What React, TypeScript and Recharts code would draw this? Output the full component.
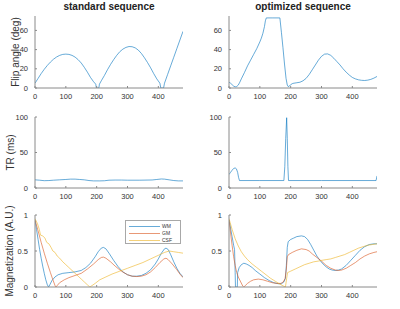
import React from "react";
import { Legend, Line, LineChart, XAxis, YAxis } from "recharts";

// sample index (x) and value (y) pairs
const xTicks = [0, 100, 200, 300, 400];
const flipTicks = [0, 20, 40, 60];
const trTicks = [0, 50, 100];
const magTicks = [0, 0.5, 1];

const stdFlip = [
  [0, 5], [10, 10], [20, 15], [30, 19.5], [40, 23.5], [50, 27], [60, 30], [70, 32.3], [80, 34], [90, 35],
  [100, 35.3], [110, 35], [120, 34], [130, 32.2], [140, 29.5], [150, 26], [160, 21.5], [170, 16.5], [180, 11],
  [190, 6.5], [197, 4], [199, 0], [207, 0], [209, 4], [215, 7.5], [225, 13], [235, 19], [245, 24.5], [255, 29.5],
  [265, 34], [275, 37.8], [285, 40.5], [295, 42.3], [305, 43.2], [315, 43], [325, 41.8], [335, 39.5], [345, 36],
  [355, 31.5], [365, 26.5], [375, 21], [385, 15], [395, 9.5], [405, 5], [408, 0], [417, 0], [420, 5], [430, 14],
  [440, 23], [450, 32], [460, 41], [470, 50], [480, 59],
];
const optFlip = [
  [0, 6], [5, 5], [10, 3.5], [15, 2], [20, 1.2], [25, 1.5], [30, 3], [35, 6], [40, 9.5], [50, 16], [60, 23],
  [70, 29], [80, 35], [90, 41], [100, 48], [105, 52], [110, 57], [115, 64], [118, 70], [121, 73], [140, 73],
  [165, 73], [170, 58], [175, 42], [180, 25], [185, 10], [189, 3], [192, 1.5], [196, 2], [200, 3.5], [207, 4.8],
  [220, 5.5], [230, 6], [240, 7.5], [250, 10], [260, 14], [270, 19], [280, 24], [290, 29], [300, 33],
  [310, 35.3], [320, 35.5], [330, 34], [340, 31], [350, 27.5], [360, 24], [370, 20], [380, 16.5], [390, 13.5],
  [400, 11], [410, 9.5], [420, 8.5], [430, 8], [440, 7.8], [450, 8.2], [460, 9], [470, 10.3], [480, 12],
];

const stdTR = [
  [0, 11.5], [15, 11], [30, 10.3], [45, 10.5], [60, 11], [80, 11.5], [100, 12], [115, 12.5], [130, 12.5],
  [145, 12], [160, 11.5], [175, 10.5], [190, 10], [210, 10], [225, 10.2], [240, 11], [260, 11.2], [280, 11.2],
  [300, 11], [340, 11], [380, 11.3], [395, 12], [410, 12.7], [420, 12.5], [435, 11.5], [450, 10.5], [465, 10],
  [480, 10],
];
const optTR = [
  [0, 19], [5, 22], [10, 25], [15, 27.5], [20, 28.3], [24, 27], [28, 22], [31, 15], [34, 10.5], [100, 10.5],
  [178, 10.5], [181, 30], [184, 70], [187, 99], [189, 70], [191, 30], [193, 10.5], [300, 10.5], [477, 10.5],
  [480, 17],
];

const stdWM = [
  [0, 0.93], [5, 0.8], [10, 0.66], [15, 0.52], [20, 0.4], [25, 0.29], [30, 0.19], [35, 0.1], [40, 0.03],
  [44, 0], [48, 0.03], [55, 0.09], [65, 0.14], [75, 0.17], [90, 0.19], [110, 0.2], [130, 0.21], [150, 0.23],
  [165, 0.27], [180, 0.33], [195, 0.42], [205, 0.49], [215, 0.54], [222, 0.55], [230, 0.53], [240, 0.47],
  [255, 0.37], [270, 0.28], [285, 0.21], [300, 0.17], [315, 0.15], [330, 0.15], [345, 0.16], [360, 0.19],
  [375, 0.24], [390, 0.32], [400, 0.39], [410, 0.47], [420, 0.53], [425, 0.54], [432, 0.52], [440, 0.45],
  [450, 0.35], [460, 0.26], [470, 0.19], [480, 0.14],
];
const stdGM = [
  [0, 0.93], [10, 0.78], [20, 0.62], [30, 0.47], [40, 0.33], [50, 0.2], [58, 0.1], [65, 0.02], [68, 0],
  [72, 0.02], [80, 0.06], [95, 0.1], [110, 0.13], [130, 0.16], [150, 0.19], [170, 0.25], [190, 0.32],
  [205, 0.38], [215, 0.41], [222, 0.415], [230, 0.4], [245, 0.35], [260, 0.29], [280, 0.22], [300, 0.17],
  [315, 0.15], [330, 0.145], [345, 0.15], [360, 0.17], [375, 0.21], [390, 0.27], [405, 0.34], [418, 0.39],
  [425, 0.4], [432, 0.38], [445, 0.32], [460, 0.24], [470, 0.18], [480, 0.13],
];
const stdCSF = [
  [0, 0.95], [8, 0.88], [14, 0.8], [18, 0.72], [25, 0.71], [32, 0.68], [38, 0.62], [45, 0.6], [52, 0.55],
  [58, 0.5], [65, 0.48], [72, 0.43], [80, 0.4], [90, 0.35], [100, 0.31], [110, 0.27], [120, 0.23], [130, 0.19],
  [140, 0.15], [150, 0.11], [160, 0.07], [170, 0.03], [178, 0], [185, 0.02], [195, 0.05], [210, 0.1],
  [230, 0.14], [250, 0.18], [275, 0.22], [300, 0.26], [325, 0.3], [350, 0.34], [375, 0.39], [400, 0.44],
  [420, 0.48], [435, 0.5], [450, 0.49], [465, 0.48], [480, 0.47],
];

const optWM = [
  [0, 0.93], [5, 0.82], [10, 0.7], [15, 0.58], [18, 0.52], [20, 0.2], [21, 0], [27, 0], [28, 0.2], [33, 0.27],
  [40, 0.31], [48, 0.33], [56, 0.32], [65, 0.3], [75, 0.27], [85, 0.23], [100, 0.18], [115, 0.13], [130, 0.09],
  [145, 0.06], [160, 0.045], [170, 0.045], [178, 0.07], [183, 0.12], [186, 0.3], [189, 0.55], [192, 0.63],
  [200, 0.66], [210, 0.68], [220, 0.7], [235, 0.71], [245, 0.7], [255, 0.66], [265, 0.59], [275, 0.51],
  [285, 0.43], [295, 0.37], [305, 0.32], [315, 0.28], [325, 0.25], [335, 0.235], [345, 0.23], [355, 0.235],
  [365, 0.25], [380, 0.3], [395, 0.37], [410, 0.44], [425, 0.51], [440, 0.56], [455, 0.59], [470, 0.6],
  [480, 0.6],
];
const optGM = [
  [0, 0.93], [5, 0.75], [10, 0.58], [15, 0.42], [20, 0.3], [25, 0.2], [30, 0.14], [38, 0.07], [45, 0.01],
  [48, 0], [53, 0.02], [60, 0.05], [70, 0.08], [80, 0.1], [95, 0.11], [110, 0.1], [125, 0.08], [140, 0.06],
  [155, 0.05], [168, 0.05], [176, 0.07], [182, 0.12], [186, 0.25], [189, 0.42], [193, 0.45], [205, 0.48],
  [220, 0.51], [235, 0.53], [250, 0.52], [260, 0.5], [270, 0.46], [285, 0.41], [300, 0.36], [315, 0.3],
  [330, 0.26], [345, 0.235], [355, 0.23], [365, 0.235], [380, 0.26], [395, 0.3], [410, 0.34], [425, 0.39],
  [440, 0.43], [455, 0.46], [470, 0.48], [480, 0.49],
];
const optCSF = [
  [0, 0.95], [10, 0.8], [20, 0.67], [30, 0.57], [40, 0.49], [50, 0.43], [60, 0.38], [75, 0.32], [90, 0.27],
  [105, 0.22], [120, 0.17], [135, 0.12], [150, 0.08], [165, 0.04], [178, 0.01], [183, 0], [187, 0.12],
  [190, 0.2], [200, 0.22], [215, 0.25], [230, 0.28], [245, 0.31], [260, 0.33], [275, 0.35], [290, 0.36],
  [300, 0.37], [315, 0.38], [330, 0.39], [345, 0.41], [360, 0.43], [375, 0.45], [390, 0.48], [405, 0.51],
  [420, 0.54], [435, 0.56], [450, 0.58], [465, 0.59], [480, 0.6],
];

const BLUE = "#0072BD";
const ORANGE = "#D95319";
const YELLOW = "#EDB120";
const AXIS = "#8a8a8a";
const TEXT = "#333333";
const FONT = '"Liberation Sans", Arial, sans-serif';
const LEGEND_ORDER = ["WM", "GM", "CSF"];

const pts = (arr: number[][]) => arr.map(([x, y]) => ({ x, y }));

type Series = { name: string; color: string; data: number[][] };

function MagLegend(props: any) {
  const items = [...(props.payload || [])].sort(
    (a: any, b: any) => LEGEND_ORDER.indexOf(a.value) - LEGEND_ORDER.indexOf(b.value)
  );
  return (
    <div
      style={{
        width: 56,
        height: 24,
        border: "1px solid #a8a8a8",
        background: "#fff",
        boxSizing: "border-box",
        paddingTop: 2,
        paddingLeft: 2,
      }}
    >
      {items.map((p: any) => (
        <div key={p.value} style={{ display: "flex", alignItems: "center", height: 7 }}>
          <svg width={32} height={7}>
            <line x1={1} x2={32} y1={3.5} y2={3.5} stroke={p.color} strokeOpacity={0.75} strokeWidth={0.8} />
          </svg>
          <span style={{ fontSize: 5, marginLeft: 2, color: TEXT, lineHeight: "7px" }}>{p.value}</span>
        </div>
      ))}
    </div>
  );
}

function Panel(props: {
  left: number;
  top: number;
  width: number;
  height: number;
  marginTop: number;
  yWidth: number;
  yDomain: number[];
  yTicks: number[];
  yLabel?: string;
  yLabelDx?: number;
  series: Series[];
  legend?: boolean;
}) {
  const { left, top, width, height, marginTop, yWidth, yDomain, yTicks, yLabel, yLabelDx, series, legend } = props;
  const tickStyle = { fill: TEXT, fontSize: 7.5 };
  return (
    <div style={{ position: "absolute", left, top }}>
      <LineChart width={width} height={height} margin={{ top: marginTop, right: 1, bottom: 0, left: 0 }}>
        <XAxis
          type="number"
          dataKey="x"
          domain={[0, 480]}
          ticks={xTicks}
          allowDataOverflow
          height={12}
          stroke={AXIS}
          tickSize={-2}
          tickMargin={8}
          tick={tickStyle}
        />
        <XAxis
          xAxisId="top"
          orientation="top"
          type="number"
          dataKey="x"
          domain={[0, 480]}
          ticks={xTicks}
          allowDataOverflow
          height={0}
          stroke={AXIS}
          tickSize={-2}
          tick={false}
        />
        <YAxis
          type="number"
          domain={yDomain}
          ticks={yTicks}
          allowDataOverflow
          width={yWidth}
          stroke={AXIS}
          tickSize={-2}
          tickMargin={9}
          tick={tickStyle}
          label={
            yLabel
              ? { value: yLabel, angle: -90, position: "center", dx: yLabelDx, style: { fontSize: 10, fill: TEXT } }
              : undefined
          }
        />
        <YAxis
          yAxisId="right"
          orientation="right"
          type="number"
          domain={yDomain}
          ticks={yTicks}
          allowDataOverflow
          width={0}
          stroke={AXIS}
          tickSize={-2}
          tick={false}
        />
        {series.map((s) => (
          <Line
            key={s.name}
            name={s.name}
            data={pts(s.data)}
            dataKey="y"
            type="linear"
            stroke={s.color}
            strokeOpacity={0.75}
            strokeWidth={0.8}
            dot={false}
            isAnimationActive={false}
          />
        ))}
        {legend && (
          <Legend
            layout="vertical"
            align="center"
            verticalAlign="middle"
            content={<MagLegend />}
            wrapperStyle={{ left: 125, top: 20, width: 56, height: 24 }}
          />
        )}
      </LineChart>
    </div>
  );
}

export default function App() {
  const title = (text: string, left: number, width: number) => (
    <div
      style={{
        position: "absolute",
        left,
        width,
        top: 1,
        textAlign: "center",
        fontSize: 10,
        fontWeight: "bold",
        lineHeight: "12px",
        color: "#222",
      }}
    >
      {text}
    </div>
  );
  return (
    <div
      style={{
        position: "absolute",
        left: 0,
        top: 0,
        width: 400,
        height: 309,
        background: "#fff",
        fontFamily: FONT,
      }}
    >
      {title("standard sequence", 35, 148)}
      {title("optimized sequence", 229, 148)}

      <Panel left={0} top={0} width={184} height={100} marginTop={16} yWidth={35} yDomain={[0, 75]}
        yTicks={flipTicks} yLabel="Flip angle (deg)" yLabelDx={-2}
        series={[{ name: "flip", color: BLUE, data: stdFlip }]} />
      <Panel left={200} top={0} width={178} height={100} marginTop={16} yWidth={29} yDomain={[0, 75]}
        yTicks={flipTicks} series={[{ name: "flip", color: BLUE, data: optFlip }]} />

      <Panel left={0} top={100} width={184} height={100} marginTop={17} yWidth={35} yDomain={[0, 100]}
        yTicks={trTicks} yLabel="TR (ms)" yLabelDx={-7}
        series={[{ name: "TR", color: BLUE, data: stdTR }]} />
      <Panel left={200} top={100} width={178} height={100} marginTop={17} yWidth={29} yDomain={[0, 100]}
        yTicks={trTicks} series={[{ name: "TR", color: BLUE, data: optTR }]} />

      <Panel left={0} top={200} width={184} height={99} marginTop={15} yWidth={35} yDomain={[0, 1]}
        yTicks={magTicks} yLabel="Magnetization (A.U.)" yLabelDx={-8.5} legend
        series={[
          { name: "WM", color: BLUE, data: stdWM },
          { name: "GM", color: ORANGE, data: stdGM },
          { name: "CSF", color: YELLOW, data: stdCSF },
        ]} />
      <Panel left={200} top={200} width={178} height={99} marginTop={15} yWidth={29} yDomain={[0, 1]}
        yTicks={magTicks}
        series={[
          { name: "WM", color: BLUE, data: optWM },
          { name: "GM", color: ORANGE, data: optGM },
          { name: "CSF", color: YELLOW, data: optCSF },
        ]} />
</div>
  );
}
